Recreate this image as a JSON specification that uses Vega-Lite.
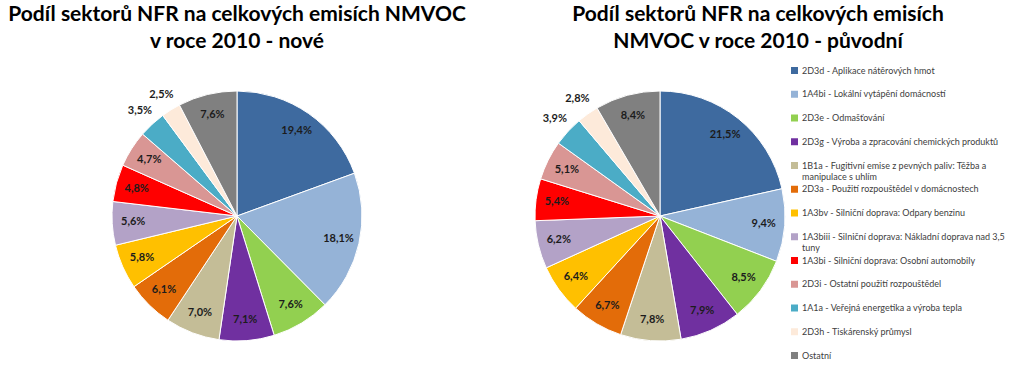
{
  "$schema": "https://vega.github.io/schema/vega-lite/v6.json",
  "padding": {"left": 5, "top": 4, "right": 0, "bottom": 0},
  "background": "white",
  "spacing": 49,
  "config": {
    "view": {"stroke": null},
    "font": "Lato",
    "locale": {"number": {"decimal": ",", "thousands": " ", "grouping": [3], "currency": ["", " Kč"]}},
    "title": {"font": "Lato", "fontSize": 21, "fontWeight": "bold", "color": "#000000", "lineHeight": 27, "anchor": "middle", "offset": 14}
  },
  "resolve": {"scale": {"color": "independent"}, "legend": {"color": "independent"}},
  "datasets": {
    "nove": [
      {"sektor": "2D3d - Aplikace nátěrových hmot", "poradi": 1, "podil": 0.194},
      {"sektor": "1A4bi - Lokální vytápění domácností", "poradi": 2, "podil": 0.181},
      {"sektor": "2D3e - Odmašťování", "poradi": 3, "podil": 0.076},
      {"sektor": "2D3g - Výroba a zpracování chemických produktů", "poradi": 4, "podil": 0.071},
      {"sektor": "1B1a - Fugitivní emise z pevných paliv: Těžba a\nmanipulace s uhlím", "poradi": 5, "podil": 0.070},
      {"sektor": "2D3a - Použití rozpouštědel v domácnostech", "poradi": 6, "podil": 0.061},
      {"sektor": "1A3bv - Silniční doprava: Odpary benzinu", "poradi": 7, "podil": 0.058},
      {"sektor": "1A3biii - Silniční doprava: Nákladní doprava nad 3,5\ntuny", "poradi": 8, "podil": 0.056},
      {"sektor": "1A3bi - Silniční doprava: Osobní automobily", "poradi": 9, "podil": 0.048},
      {"sektor": "2D3i - Ostatní použití rozpouštědel", "poradi": 10, "podil": 0.047},
      {"sektor": "1A1a - Veřejná energetika a výroba tepla", "poradi": 11, "podil": 0.035},
      {"sektor": "2D3h - Tiskárenský průmysl", "poradi": 12, "podil": 0.025},
      {"sektor": "Ostatní", "poradi": 13, "podil": 0.076}
    ],
    "puvodni": [
      {"sektor": "2D3d - Aplikace nátěrových hmot", "poradi": 1, "podil": 0.215},
      {"sektor": "1A4bi - Lokální vytápění domácností", "poradi": 2, "podil": 0.094},
      {"sektor": "2D3e - Odmašťování", "poradi": 3, "podil": 0.085},
      {"sektor": "2D3g - Výroba a zpracování chemických produktů", "poradi": 4, "podil": 0.079},
      {"sektor": "1B1a - Fugitivní emise z pevných paliv: Těžba a\nmanipulace s uhlím", "poradi": 5, "podil": 0.078},
      {"sektor": "2D3a - Použití rozpouštědel v domácnostech", "poradi": 6, "podil": 0.067},
      {"sektor": "1A3bv - Silniční doprava: Odpary benzinu", "poradi": 7, "podil": 0.064},
      {"sektor": "1A3biii - Silniční doprava: Nákladní doprava nad 3,5\ntuny", "poradi": 8, "podil": 0.062},
      {"sektor": "1A3bi - Silniční doprava: Osobní automobily", "poradi": 9, "podil": 0.054},
      {"sektor": "2D3i - Ostatní použití rozpouštědel", "poradi": 10, "podil": 0.051},
      {"sektor": "1A1a - Veřejná energetika a výroba tepla", "poradi": 11, "podil": 0.039},
      {"sektor": "2D3h - Tiskárenský průmysl", "poradi": 12, "podil": 0.028},
      {"sektor": "Ostatní", "poradi": 13, "podil": 0.084}
    ]
  },
  "hconcat": [
    {
      "title": {"text": ["Podíl sektorů NFR na celkových emisích NMVOC", "v roce 2010 - nové"]},
      "width": 464,
      "height": 300,
      "data": {"name": "nove"},
      "encoding": {
        "theta": {"field": "podil", "type": "quantitative", "stack": true},
        "order": {"field": "poradi", "type": "quantitative"}
      },
      "layer": [
        {
          "mark": {"type": "arc", "outerRadius": 125, "stroke": "#ffffff", "strokeWidth": 1},
          "encoding": {
            "color": {
              "field": "sektor", "type": "nominal", "legend": null,
              "scale": {
                "domain": ["2D3d - Aplikace nátěrových hmot", "1A4bi - Lokální vytápění domácností", "2D3e - Odmašťování", "2D3g - Výroba a zpracování chemických produktů", "1B1a - Fugitivní emise z pevných paliv: Těžba a\nmanipulace s uhlím", "2D3a - Použití rozpouštědel v domácnostech", "1A3bv - Silniční doprava: Odpary benzinu", "1A3biii - Silniční doprava: Nákladní doprava nad 3,5\ntuny", "1A3bi - Silniční doprava: Osobní automobily", "2D3i - Ostatní použití rozpouštědel", "1A1a - Veřejná energetika a výroba tepla", "2D3h - Tiskárenský průmysl", "Ostatní"],
                "range": ["#3E6A9F", "#95B3D7", "#92D050", "#7030A0", "#C4BD97", "#E36C09", "#FFC000", "#B3A2C7", "#FF0000", "#D99694", "#4BACC6", "#FDEADA", "#808080"]
              }
            }
          }
        },
        {
          "mark": {"type": "text", "radius": 104, "fontSize": 11, "fontWeight": "bold", "color": "#1c1c1c"},
          "encoding": {
            "text": {"condition": {"test": "datum.podil < 0.04", "value": ""}, "field": "podil", "type": "quantitative", "format": ".1%"}
          }
        },
        {
          "mark": {"type": "text", "radius": 143, "fontSize": 11, "fontWeight": "bold", "color": "#1c1c1c"},
          "encoding": {
            "text": {"condition": {"test": "datum.podil >= 0.04", "value": ""}, "field": "podil", "type": "quantitative", "format": ".1%"}
          }
        }
      ]
    },
    {
      "title": {"text": ["Podíl sektorů NFR na celkových emisích", "NMVOC v roce 2010 - původní"], "dx": 98},
      "width": 250,
      "height": 300,
      "data": {"name": "puvodni"},
      "encoding": {
        "theta": {"field": "podil", "type": "quantitative", "stack": true},
        "order": {"field": "poradi", "type": "quantitative"}
      },
      "layer": [
        {
          "mark": {"type": "arc", "outerRadius": 125, "stroke": "#ffffff", "strokeWidth": 1},
          "encoding": {
            "color": {
              "field": "sektor", "type": "nominal",
              "scale": {
                "domain": ["2D3d - Aplikace nátěrových hmot", "1A4bi - Lokální vytápění domácností", "2D3e - Odmašťování", "2D3g - Výroba a zpracování chemických produktů", "1B1a - Fugitivní emise z pevných paliv: Těžba a\nmanipulace s uhlím", "2D3a - Použití rozpouštědel v domácnostech", "1A3bv - Silniční doprava: Odpary benzinu", "1A3biii - Silniční doprava: Nákladní doprava nad 3,5\ntuny", "1A3bi - Silniční doprava: Osobní automobily", "2D3i - Ostatní použití rozpouštědel", "1A1a - Veřejná energetika a výroba tepla", "2D3h - Tiskárenský průmysl", "Ostatní"],
                "range": ["#3E6A9F", "#95B3D7", "#92D050", "#7030A0", "#C4BD97", "#E36C09", "#FFC000", "#B3A2C7", "#FF0000", "#D99694", "#4BACC6", "#FDEADA", "#808080"]
              },
              "legend": {
                "title": null, "orient": "right", "offset": 5, "padding": 0,
                "symbolType": "square", "symbolSize": 49, "symbolStrokeWidth": 0,
                "labelFont": "Lato", "labelFontSize": 9, "labelColor": "#404040", "labelOffset": 3, "labelLimit": 240,
                "labelExpr": "split(datum.label, '\\n')",
                "gridAlign": "all", "rowPadding": 2.75
              }
            }
          }
        },
        {
          "mark": {"type": "text", "radius": 104, "fontSize": 11, "fontWeight": "bold", "color": "#1c1c1c"},
          "encoding": {
            "text": {"condition": {"test": "datum.podil < 0.04", "value": ""}, "field": "podil", "type": "quantitative", "format": ".1%"}
          }
        },
        {
          "mark": {"type": "text", "radius": 143, "fontSize": 11, "fontWeight": "bold", "color": "#1c1c1c"},
          "encoding": {
            "text": {"condition": {"test": "datum.podil >= 0.04", "value": ""}, "field": "podil", "type": "quantitative", "format": ".1%"}
          }
        }
      ]
    }
  ]
}
